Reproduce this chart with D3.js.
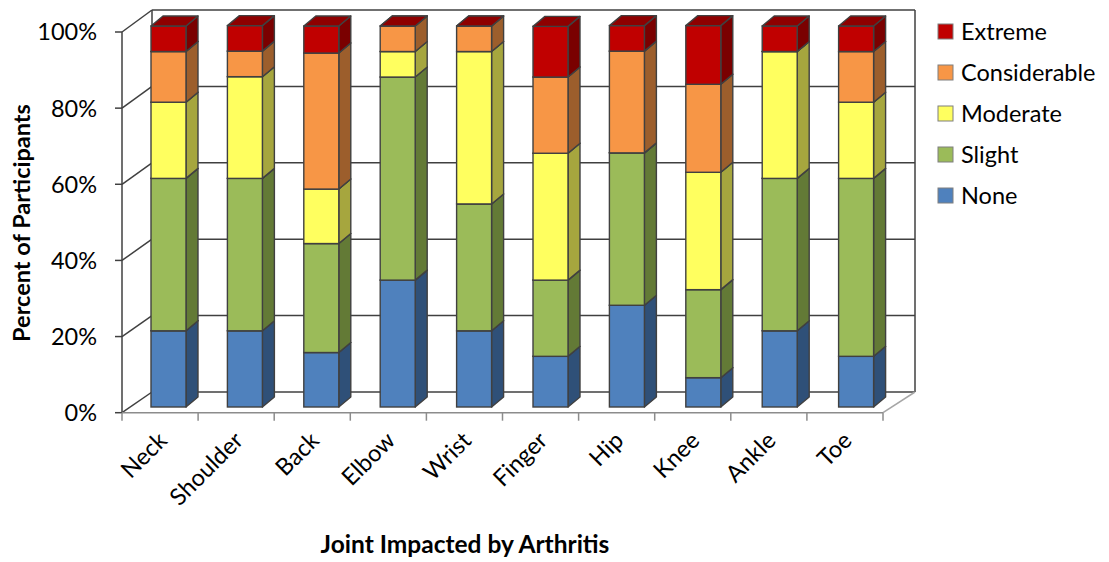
<!DOCTYPE html>
<html>
<head>
<meta charset="utf-8">
<script src="https://cdn.jsdelivr.net/npm/d3@7"></script>
<style>
  html, body { margin: 0; padding: 0; background: #fff; }
  svg { display: block; }
  text { font-family: Lato, "Open Sans", sans-serif; fill: #000; }
</style>
</head>
<body>
<svg id="chart" width="1109" height="562"></svg>
<script>
// ---- data ----
const categories = ["Neck", "Shoulder", "Back", "Elbow", "Wrist", "Finger", "Hip", "Knee", "Ankle", "Toe"];
const seriesNames = ["None", "Slight", "Moderate", "Considerable", "Extreme"];
const none         = [20.0, 20.0, 14.3, 33.3, 20.0, 13.3, 26.7,  7.7, 20.0, 13.3];
const slight       = [40.0, 40.0, 28.6, 53.3, 33.3, 20.0, 40.0, 23.1, 40.0, 46.7];
const moderate     = [20.0, 26.7, 14.3,  6.7, 40.0, 33.3,  0.0, 30.8, 33.3, 20.0];
const considerable = [13.3,  6.7, 35.7,  6.7,  6.7, 20.0, 26.7, 23.1,  0.0, 13.3];
const extreme      = [ 6.7,  6.7,  7.1,  0.0,  0.0, 13.3,  6.7, 15.4,  6.7,  6.7];
const yTicks = [0, 20, 40, 60, 80, 100];
const yTickLabels = ["0%", "20%", "40%", "60%", "80%", "100%"];
const yTitle = "Percent of Participants";
const xTitle = "Joint Impacted by Arthritis";

const seriesValues = [none, slight, moderate, considerable, extreme];

// ---- styles ----
const frontColors = ["#4F81BD", "#9BBB59", "#FFFF5F", "#F79646", "#C00000"];
const sideColors  = ["#2F5078", "#637A36", "#A6A63E", "#9C5E2C", "#7A0000"];
const topColors   = ["#3C6498", "#7C9646", "#CFCF4C", "#C77838", "#8E0000"];
const edge = "#404040";

const svg = d3.select("#chart");

// ---- scales ----
const xAxis = d3.scaleBand().domain(categories).range([122, 883]);
const xBar = d3.scaleBand().domain(categories).range([151, 873.6]).paddingInner(0.542).paddingOuter(0);
const xBack = d3.scaleLinear().domain([0, 1]).range([152, 915]);
const yAxisS = d3.scaleLinear().domain([0, 100]).range([412.7, 32]);
const yBack = d3.scaleLinear().domain([0, 100]).range([392, 10]);
const yBar = d3.scaleLinear().domain([0, 100]).range([407, 26]);
const barDepth = { dx: 12, dy: -10 };

// ---- walls / gridlines ----
const grid = svg.append("g");
grid.selectAll("line.hg").data(yTicks).join("line")
  .attr("x1", xBack(0)).attr("x2", xBack(1))
  .attr("y1", d => yBack(d)).attr("y2", d => yBack(d))
  .attr("stroke", edge).attr("stroke-width", 1.5);
grid.selectAll("line.dg").data(yTicks).join("line")
  .attr("x1", 122).attr("x2", xBack(0))
  .attr("y1", d => yAxisS(d)).attr("y2", d => yBack(d))
  .attr("stroke", edge).attr("stroke-width", 1.5);
grid.append("line")
  .attr("x1", xBack(1)).attr("x2", xBack(1))
  .attr("y1", yBack(0)).attr("y2", yBack(100))
  .attr("stroke", edge).attr("stroke-width", 1.5);
grid.append("line")
  .attr("x1", xBack(0)).attr("x2", xBack(0))
  .attr("y1", yBack(0)).attr("y2", yBack(100))
  .attr("stroke", edge).attr("stroke-width", 1.5);
grid.append("line")
  .attr("x1", 122).attr("x2", 122)
  .attr("y1", yAxisS(0)).attr("y2", yAxisS(100))
  .attr("stroke", edge).attr("stroke-width", 1.5);
grid.selectAll("line.yt").data(yTicks).join("line")
  .attr("x1", 115).attr("x2", 122)
  .attr("y1", d => yAxisS(d)).attr("y2", d => yAxisS(d))
  .attr("stroke", edge).attr("stroke-width", 1.5);
grid.append("line")
  .attr("x1", 122).attr("x2", 883)
  .attr("y1", yAxisS(0)).attr("y2", yAxisS(0))
  .attr("stroke", "#8c8c8c").attr("stroke-width", 1.5);
grid.append("line")
  .attr("x1", 883).attr("x2", xBack(1))
  .attr("y1", yAxisS(0)).attr("y2", yBack(0))
  .attr("stroke", "#a6a6a6").attr("stroke-width", 1.5);
const xTickPos = categories.map(c => xAxis(c)).concat([xAxis(categories[categories.length - 1]) + xAxis.bandwidth()]);
grid.selectAll("line.xt").data(xTickPos).join("line")
  .attr("x1", d => d).attr("x2", d => d)
  .attr("y1", yAxisS(0)).attr("y2", yAxisS(0) + 8)
  .attr("stroke", "#8c8c8c").attr("stroke-width", 1.5);

// ---- bars ----
const bars = svg.append("g");
categories.forEach((cat, i) => {
  const x0 = xBar(cat), x1 = x0 + xBar.bandwidth();
  let cum = 0;
  seriesValues.forEach((vals, s) => {
    const v = vals[i];
    const yb = yBar(cum), yt = yBar(cum + v);
    cum += v;
    const g = bars.append("g");
    g.append("path")
      .attr("d", `M${x1},${yb}L${x1 + barDepth.dx},${yb + barDepth.dy}L${x1 + barDepth.dx},${yt + barDepth.dy}L${x1},${yt}Z`)
      .attr("fill", sideColors[s]).attr("stroke", edge).attr("stroke-width", 1.4).attr("stroke-linejoin", "round");
    g.append("rect")
      .attr("x", x0).attr("y", yt).attr("width", x1 - x0).attr("height", Math.max(0, yb - yt))
      .attr("fill", frontColors[s]).attr("stroke", edge).attr("stroke-width", 1.4);
    g.append("path")
      .attr("d", `M${x0},${yt}L${x0 + barDepth.dx},${yt + barDepth.dy}L${x1 + barDepth.dx},${yt + barDepth.dy}L${x1},${yt}Z`)
      .attr("fill", topColors[s]).attr("stroke", edge).attr("stroke-width", 1.4).attr("stroke-linejoin", "round");
  });
});

// ---- y labels ----
svg.append("g").selectAll("text").data(yTicks).join("text")
  .attr("x", 97).attr("y", d => yAxisS(d))
  .attr("dy", "0.36em")
  .attr("text-anchor", "end")
  .style("font-size", "23.5px")
  .text((d, i) => yTickLabels[i]);

svg.append("text")
  .attr("transform", "translate(30,223) rotate(-90)")
  .attr("text-anchor", "middle")
  .style("font-size", "23.5px").style("font-weight", "bold")
  .text(yTitle);

// ---- x labels ----
svg.append("g").selectAll("text").data(categories).join("text")
  .attr("transform", d => `translate(${xAxis(d) + xAxis.bandwidth() / 2},${yAxisS(0) + 21}) rotate(-45)`)
  .attr("text-anchor", "end")
  .attr("dy", "0.5em")
  .style("font-size", "23.5px")
  .text(d => d);

svg.append("text")
  .attr("x", 465).attr("y", 553)
  .attr("text-anchor", "middle")
  .style("font-size", "24.5px").style("font-weight", "bold")
  .text(xTitle);

// ---- legend ----
const legendOrder = seriesNames.map((n, i) => i).reverse();
const leg = svg.append("g").selectAll("g").data(legendOrder).join("g")
  .attr("transform", (d, k) => `translate(938,${31.5 + k * 41})`);
leg.append("rect")
  .attr("x", 0).attr("y", -7.5).attr("width", 15).attr("height", 15)
  .attr("fill", d => frontColors[d]).attr("stroke", "#7f7f7f").attr("stroke-width", 1);
leg.append("text")
  .attr("x", 23).attr("y", 0).attr("dy", "0.36em")
  .style("font-size", "23.5px")
  .text(d => seriesNames[d]);
</script>
</body>
</html>
